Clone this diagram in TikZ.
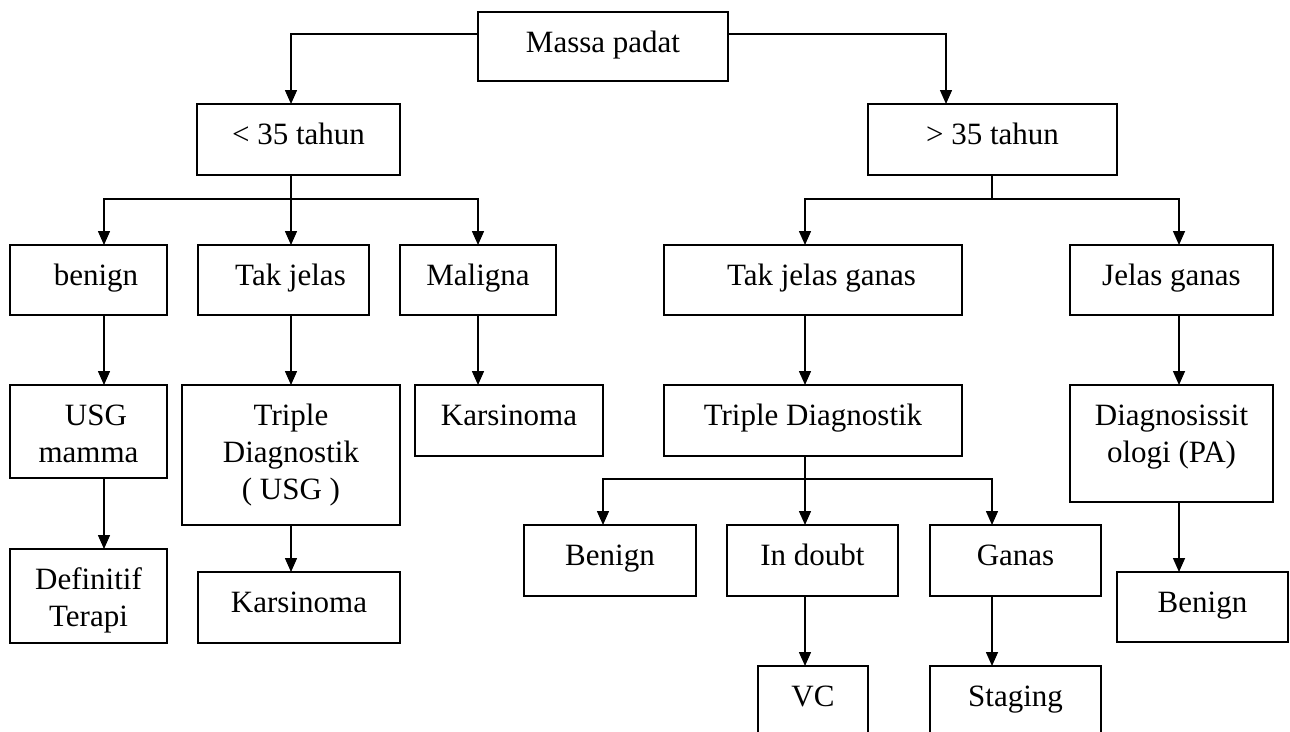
\documentclass[tikz,border=0pt]{standalone}
\usepackage{fontspec}
\setmainfont{Liberation Serif}
\usetikzlibrary{arrows.meta}
\newcommand{\bxt}[3]{\parbox[t][#2pt][t]{#1pt}{\centering\rule{0pt}{40pt}#3}}
\begin{document}
\begin{tikzpicture}[x=1pt,y=-1pt,
  box/.style={draw,line width=1.6pt,inner sep=0pt,outer sep=0pt,anchor=north west,
    font=\fontsize{31}{37}\selectfont},
  conn/.style={line width=1.5pt},
  arr/.style={conn,-{Triangle[length=14pt,width=12pt]}}]
\useasboundingbox (0,0) rectangle (1290,731);
\clip (0,0) rectangle (1290,731);
\fill[white] (0,0) rectangle (1290,731);
% boxes
\node[box] (massa) at (478,12) {\bxt{250}{69}{Massa padat}};
\node[box] (lt35) at (197,104) {\bxt{203}{71}{\textless{} 35 tahun}};
\node[box] (gt35) at (868,104) {\bxt{249}{71}{\textgreater{} 35 tahun}};
\node[box] (benign) at (10,245) {\bxt{157}{70}{\hspace*{15pt}benign}};
\node[box] (takjelas) at (198,245) {\bxt{171}{70}{\hspace*{14pt}Tak jelas}};
\node[box] (maligna) at (400,245) {\bxt{156}{70}{Maligna}};
\node[box] (tjganas) at (664,245) {\bxt{298}{70}{\hspace*{17pt}Tak jelas ganas}};
\node[box] (jelas) at (1070,245) {\bxt{203}{70}{Jelas ganas}};
\node[box] (usg) at (10,385) {\bxt{157}{93}{\hspace*{15pt}USG\\ mamma}};
\node[box] (triple1) at (182,385) {\bxt{218}{140}{Triple\\ Diagnostik\\ ( USG )}};
\node[box] (kars1) at (415,385) {\bxt{188}{71}{Karsinoma}};
\node[box] (triple2) at (664,385) {\bxt{298}{71}{Triple Diagnostik}};
\node[box] (diag) at (1070,385) {\bxt{203}{117}{Diagnosissit\\ ologi (PA)}};
\node[box] (definitif) at (10,549) {\bxt{157}{94}{Definitif\\ Terapi}};
\node[box] (kars2) at (198,572) {\bxt{202}{71}{Karsinoma}};
\node[box] (benign2) at (524,525) {\bxt{172}{71}{Benign}};
\node[box] (indoubt) at (727,525) {\bxt{171}{71}{In doubt}};
\node[box] (ganas) at (930,525) {\bxt{171}{71}{Ganas}};
\node[box] (benign3) at (1117,572) {\bxt{171}{70}{Benign}};
\node[box] (vc) at (758,666) {\bxt{110}{90}{VC}};
\node[box] (staging) at (930,666) {\bxt{171}{90}{Staging}};
% junctions
\coordinate (j1) at (291,199);
\coordinate (j2) at (992,199);
\coordinate (j3) at (805,479);
% connectors from the top box
\draw[arr] ([yshift=12.5pt]massa.west) -| ([xshift=-7.5pt]lt35.north);
\draw[arr] ([yshift=12.5pt]massa.east) -| ([xshift=-46.5pt]gt35.north);
% left branch
\draw[conn] ([xshift=-7.5pt]lt35.south) -- (j1);
\draw[arr] (j1) -| ([xshift=15.5pt]benign.north);
\draw[arr] (j1) -- ([xshift=7.5pt]takjelas.north);
\draw[arr] (j1) -| (maligna.north);
% right branch
\draw[conn] ([xshift=-0.5pt]gt35.south) -- (j2);
\draw[arr] (j2) -| ([xshift=-8pt]tjganas.north);
\draw[arr] (j2) -| ([xshift=7.5pt]jelas.north);
% left columns
\draw[arr] ([xshift=15.5pt]benign.south) -- ([xshift=15.5pt]usg.north);
\draw[arr] ([xshift=15.5pt]usg.south) -- ([xshift=15.5pt]definitif.north);
\draw[arr] ([xshift=7.5pt]takjelas.south) -- (triple1.north);
\draw[arr] (triple1.south) -- ([xshift=-8pt]kars2.north);
\draw[arr] (maligna.south) -- ([xshift=-31pt]kars1.north);
% right columns
\draw[arr] ([xshift=-8pt]tjganas.south) -- ([xshift=-8pt]triple2.north);
\draw[conn] ([xshift=-8pt]triple2.south) -- (j3);
\draw[arr] (j3) -| ([xshift=-7pt]benign2.north);
\draw[arr] (j3) -- ([xshift=-7.5pt]indoubt.north);
\draw[arr] (j3) -| ([xshift=-23.5pt]ganas.north);
\draw[arr] ([xshift=-7.5pt]indoubt.south) -- ([xshift=-8pt]vc.north);
\draw[arr] ([xshift=-23.5pt]ganas.south) -- ([xshift=-23.5pt]staging.north);
\draw[arr] ([xshift=7.5pt]jelas.south) -- ([xshift=7.5pt]diag.north);
\draw[arr] ([xshift=7.5pt]diag.south) -- ([xshift=-23.5pt]benign3.north);
\end{tikzpicture}
\end{document}
